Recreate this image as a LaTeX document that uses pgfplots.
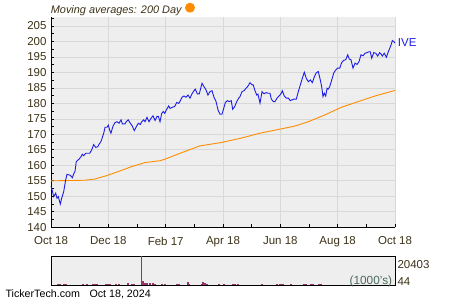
\documentclass[border=0pt]{standalone}
\usepackage{fontspec}
\setmainfont{Liberation Sans}
\usepackage{pgfplots}
\pgfplotsset{compat=1.18}
\definecolor{bgc}{HTML}{EEEEEE}
\definecolor{gridc}{HTML}{D8D8D8}
\definecolor{tickc}{HTML}{3D3218}
\definecolor{linec}{HTML}{1C1CE6}
\definecolor{mac}{HTML}{FF8C00}
\definecolor{volc}{HTML}{993366}
\definecolor{unitc}{HTML}{4A6A5A}
\begin{document}
\begin{tikzpicture}
\path[use as bounding box] (0pt,0pt) rectangle (450pt,300pt);
\begin{axis}[at={(51pt,72.7pt)}, anchor=south west, scale only axis,
  width=344pt, height=210.6pt,
  xmin=0, xmax=366, ymin=140, ymax=208,
  axis x line*=bottom, axis y line*=left,
  axis line style={black, line width=0.9pt, -},
  axis background/.style={fill=bgc},
  xtick={0,61,122,183,244,305,366},
  xticklabels={Oct 18,Dec 18,Feb 17,Apr 18,Jun 18,Aug 18,Oct 18},
  minor xtick={30.5,91.5,152.5,213.5,274.5,335.5},
  ytick={140,145,...,205},
  minor ytick={142.5,147.5,...,207.5},
  grid=major, major grid style={gridc, line width=0.8pt},
  tick align=inside, major tick length=3pt, minor tick length=3pt,
  tick style={black, line width=0.8pt},
  /pgf/number format/assume math mode=true,
  tick label style={font=\fontsize{11.5}{13}\selectfont, text=tickc},
  yticklabel style={xshift=-1pt},
  xticklabel style={yshift=-6pt},
  clip=false,
]
\addplot[mac, line width=0.9pt] coordinates {
(0,155.0) (36.2,155.2) (46.8,155.6) (59.3,156.7) (71.6,158.0) (85.9,159.6)
(100.0,160.9) (116.0,161.5) (121.3,162.0) (137.3,163.9) (158.5,166.3)
(179.8,167.3) (201.1,168.7) (222.4,170.4) (243.7,171.7) (259.6,172.7)
(273.8,174.1) (291.5,176.3) (309.3,178.8) (327.0,180.6) (344.7,182.4) (366,184.2)
};
\addplot[linec, line width=0.9pt] coordinates {
(0,153.3) (1.4,151.8) (2.9,149.9) (5.0,151.0) (6.4,149.4) (7.8,149.9)
(9.9,147.5) (11.4,149.4) (13.5,151.5) (15.6,155.3) (17.0,157.1) (20.5,156.8)
(22.7,156.0) (24.2,157.3) (25.5,158.0) (26.9,161.2) (29.8,162.0) (31.9,162.8)
(33.3,163.6) (34.8,163.1) (36.9,163.9) (41.2,163.9) (43.3,165.0) (45.4,166.7)
(47.6,165.8) (49.7,166.0) (51.1,166.8) (53.2,167.7) (56.1,170.4) (57.5,172.3)
(59.6,172.3) (61.0,173.0) (62.5,171.3) (63.8,170.4) (66.0,172.7) (68.1,173.8)
(70.2,174.1) (72.4,173.6) (74.5,174.7) (75.9,173.4) (78.7,173.4) (80.1,174.1)
(82.2,174.7) (84.4,173.6) (86.5,172.7) (88.6,171.2) (90.8,172.5) (92.9,173.6)
(95.0,173.2) (96.5,174.1) (98.6,174.7) (100.0,174.1) (102.1,175.5) (104.3,174.1)
(106.4,175.2) (108.5,176.0) (110.7,174.5) (112.8,175.8) (114.2,175.8) (116.0,174.1)
(117.8,176.8) (119.5,177.4) (121.0,176.8) (123.1,178.1) (125.2,179.2) (126.6,178.4)
(129.5,178.8) (131.6,179.0) (133.7,180.3) (135.9,180.0) (138.0,181.1) (139.4,182.0)
(141.5,182.4) (143.6,182.0) (145.8,182.7) (147.9,181.7) (150.0,183.1) (152.2,184.1)
(153.5,184.6) (155.7,183.1) (157.8,183.1) (159.3,184.9) (160.7,186.5) (162.8,185.4)
(164.9,184.4) (167.0,182.7) (169.2,183.8) (171.3,184.1) (173.4,182.0) (175.6,180.6)
(177.7,177.9) (179.8,176.5) (181.9,176.5) (183.3,177.9) (185.5,180.3) (187.6,180.9)
(189.7,180.6) (191.8,180.9) (193.3,178.1) (195.5,179.0) (197.6,180.6) (199.7,181.7)
(201.1,182.2) (203.2,183.8) (205.4,184.1) (207.5,184.9) (209.6,185.6) (211.7,186.7)
(213.9,186.0) (215.2,186.0) (216.7,184.4) (218.9,182.7) (220.2,183.0) (222.4,180.1)
(224.5,183.8) (226.6,183.1) (228.8,183.5) (230.9,183.3) (233.0,183.3) (234.4,181.4)
(236.5,180.6) (238.3,180.6) (240.5,181.7) (242.6,182.4) (244.7,183.1) (246.1,184.1)
(248.2,182.4) (250.4,181.7) (252.5,181.7) (254.6,180.9) (256.8,181.2) (258.9,181.4)
(261.0,181.4) (263.1,183.8) (265.3,186.0) (267.4,188.1) (269.5,190.1) (271.6,188.1)
(273.8,187.0) (275.9,187.6) (278.0,186.7) (280.2,188.6) (282.3,189.9) (284.4,190.3)
(286.5,187.6) (288.0,185.4) (289.4,182.2) (290.8,183.3) (292.3,182.4) (293.7,184.9)
(295.0,184.6) (296.5,185.4) (298.7,187.6) (300.8,189.8) (302.9,190.8) (305.0,191.4)
(307.2,191.4) (309.3,193.2) (311.4,193.9) (313.6,194.1) (315.7,195.7) (317.4,194.3)
(319.2,194.1) (321.3,191.4) (323.5,193.0) (325.6,192.6) (327.7,193.5) (329.8,195.7)
(332.0,195.4) (334.1,196.2) (336.2,196.4) (338.4,196.7) (339.7,196.7) (341.2,194.6)
(343.4,196.4) (345.5,196.2) (347.6,195.3) (349.7,196.4) (351.1,196.0) (352.5,195.3)
(354.6,196.2) (356.8,194.9) (358.9,196.7) (360.4,197.8) (361.8,198.9) (363.2,200.3)
(364.6,200.0) (366.0,199.5)
};
\end{axis}
\begin{axis}[at={(51pt,15pt)}, anchor=south west, scale only axis,
  width=344pt, height=29pt,
  xmin=0, xmax=366, ymin=0, ymax=20403,
  xtick=\empty, ytick=\empty,
  axis line style={black, line width=0.9pt},
  axis background/.style={fill=bgc},
]
\addplot[ycomb, volc, line width=1.4pt, mark=none] coordinates {
(7.4,900) (9.6,800) (13.8,900) (16,900) (34,800) (38.3,900) (44.7,900)
(46.8,1000) (49,900) (58.5,900) (60.6,900) (62.8,800) (69.2,900) (72.4,900)
(81.9,1300) (86.2,900) (88.3,800) (96.1,20403) (97.9,2500) (100,1500)
(102.1,1200) (105.3,1200) (108.5,1200) (110.7,900) (118.1,900) (121.3,900)
(134,900) (136.2,900) (145.8,1800) (146.8,1000) (160.7,900) (161.7,2200)
(163.9,1200) (166,1000) (178.8,800) (184.1,800) (193.6,900) (195.8,900)
(199,700) (224.5,700) (240.5,700) (243.7,700) (244.7,900) (246.8,800)
(255.4,700) (269.2,900) (271.3,900) (276.6,900) (278.8,800) (285.2,800) (287.3,900)
};
\end{axis}
\node[anchor=base west, inner sep=0, text=tickc, font=\fontsize{10.9}{12}\selectfont\itshape] at (50.7pt,286.7pt) {Moving averages: 200 Day};
\fill[mac] (190pt,292.3pt) circle (5pt);
\node[anchor=base west, inner sep=0, text=linec, font=\fontsize{11.5}{13}\selectfont] at (397.7pt,253.3pt) {IVE};
\node[anchor=base west, inner sep=0, text=tickc, font=\fontsize{11.5}{13}\selectfont] at (397.3pt,31.7pt) {20403};
\node[anchor=base west, inner sep=0, text=tickc, font=\fontsize{11.5}{13}\selectfont] at (397.3pt,14pt) {44};
\node[anchor=base east, inner sep=0, text=unitc, font=\fontsize{11.8}{13}\selectfont] at (392.3pt,15.3pt) {(1000's)};
\node[anchor=base west, inner sep=0, text=black, font=\fontsize{10.7}{12}\selectfont] at (5.3pt,2.3pt) {TickerTech.com};
\node[anchor=base west, inner sep=0, text=black, font=\fontsize{10.7}{12}\selectfont] at (89.3pt,2.3pt) {Oct 18, 2024};
\end{tikzpicture}
\end{document}
